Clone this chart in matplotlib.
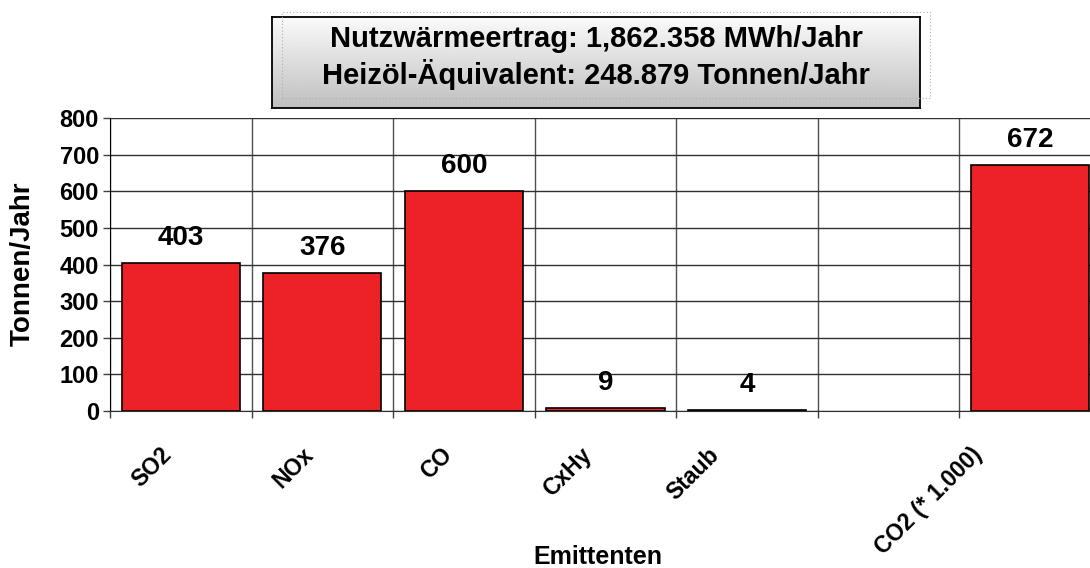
import numpy as np
import matplotlib
matplotlib.use('Agg')
import matplotlib.pyplot as plt
from matplotlib.patches import Rectangle

# Chart data
categories = ['SO2', 'NOx', 'CO', 'CxHy', 'Staub', '', 'CO2 (* 1.000)']
values = [403, 376, 600, 9, 4, None, 672]
title_lines = ['Nutzwärmeertrag: 1,862.358 MWh/Jahr',
               'Heizöl-Äquivalent: 248.879 Tonnen/Jahr']
y_ticks = [0, 100, 200, 300, 400, 500, 600, 700, 800]

# horizontal nudge (px) of each rotated category label, as Excel placed them
label_shift_px = [-5, -4, -7, -9, -23, 0, -44]

plt.rcParams['font.family'] = ['Liberation Sans', 'DejaVu Sans']
plt.rcParams['font.weight'] = 'bold'

W, H = 1090, 568
PX = 0.72  # points per pixel at dpi 100
fig = plt.figure(figsize=(W / 100, H / 100), dpi=100)
fig.patch.set_facecolor('white')

# Main plot area (extends a little past the right edge, like the original)
ax = fig.add_axes([110 / W, 1 - 411 / H, 991 / W, 293 / H])
x = np.arange(len(categories))
for xi, v in zip(x, values):
    if v is None:
        continue
    ax.bar(xi, v, width=0.834, color='#ed2227', edgecolor='black', linewidth=1.2, zorder=3)
    ax.annotate(str(v), (xi, v), xytext=(0, 18), textcoords='offset points',
                ha='center', va='center', fontsize=20, fontweight='bold', zorder=4)

ax.set_xlim(-0.5, len(categories) - 0.5)
ax.set_ylim(0, 800)
ax.set_yticks(y_ticks)
ax.set_yticklabels([str(t) for t in y_ticks], fontsize=17, fontweight='bold')
ax.tick_params(axis='y', length=5, width=1, pad=3, color='#404040')

ax.set_xticks(x)
ax.set_xticklabels([])
ax.tick_params(axis='x', which='major', length=0)
ax.set_xticks(np.arange(-0.5, len(categories)), minor=True)
ax.tick_params(axis='x', which='minor', length=5, width=1, color='#404040')

ax.grid(axis='y', which='major', color='#303030', linewidth=1, zorder=0)
ax.grid(axis='x', which='minor', color='#505050', linewidth=1, zorder=0)
ax.set_axisbelow(True)

for s in ['top', 'right']:
    ax.spines[s].set_visible(False)
ax.spines['left'].set_color('black')
ax.spines['bottom'].set_color('#303030')
ax.spines['bottom'].set_zorder(5)

# Rotated category labels
for xi, lab, dx in zip(x, categories, label_shift_px):
    if not lab:
        continue
    ax.annotate(lab, (xi, 0), xytext=(dx * PX, -32 * PX), textcoords='offset points',
                rotation=45, ha='right', va='top',
                fontsize=16.5, fontweight='bold', annotation_clip=False)

fig.text(598 / W, 1 - 564 / H, 'Emittenten', ha='center', va='baseline',
         fontsize=18, fontweight='bold')
fig.text(23 / W, 1 - 264 / H, 'Tonnen/Jahr', ha='center', va='center',
         rotation=90, fontsize=20, fontweight='bold')

# Title box with gradient
fig.patches.append(Rectangle((282 / W, 1 - 98 / H), 648 / W, 86 / H,
                             transform=fig.transFigure, fill=False,
                             edgecolor='#b0b0b0', linewidth=0.8,
                             linestyle=(0, (1, 2))))
tax = fig.add_axes([272 / W, 1 - 108 / H, 648 / W, 91 / H])
grad = np.linspace(0.98, 0.75, 100).reshape(-1, 1)
tax.imshow(grad, cmap='gray', vmin=0, vmax=1, aspect='auto',
           extent=[0, 1, 0, 1], origin='upper')
tax.set_xlim(0, 1)
tax.set_ylim(0, 1)
tax.set_xticks([])
tax.set_yticks([])
for s in tax.spines.values():
    s.set_color('black')
    s.set_linewidth(1.3)
tax.text(0.5, (108 - 47) / 91, title_lines[0], ha='center', va='baseline',
         fontsize=21, fontweight='bold', transform=tax.transAxes)
tax.text(0.5, (108 - 84) / 91, title_lines[1], ha='center', va='baseline',
         fontsize=21, fontweight='bold', transform=tax.transAxes)

fig.savefig('out.png', dpi=100)
